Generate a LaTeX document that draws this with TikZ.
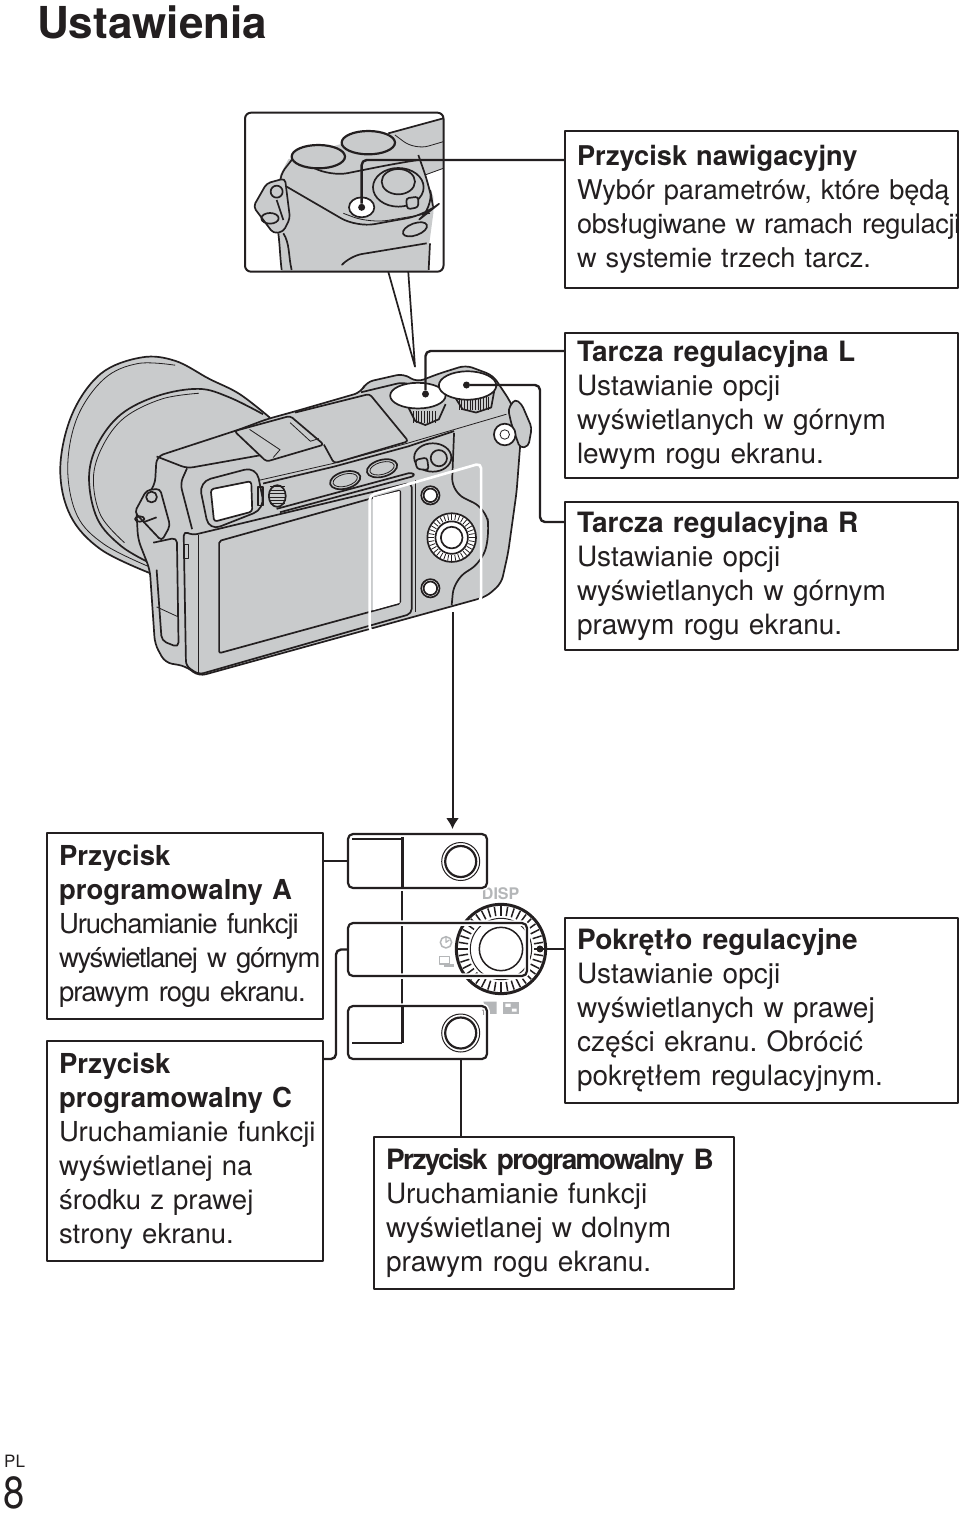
\documentclass[tikz,border=0pt]{standalone}
\usepackage{fontspec}
\setmainfont{TeX Gyre Heros}
\usetikzlibrary{arrows.meta}
\definecolor{camgrey}{HTML}{C9CBCC}
\definecolor{icongrey}{HTML}{B4B6B8}
\definecolor{inkblack}{HTML}{231F20}
\newcommand{\tracked}[2]{{\addfontfeatures{LetterSpace=#1}#2}}

\begin{document}
\begin{tikzpicture}[x=1pt,y=-1pt,line join=round,color=inkblack]
	
	\tikzset{infobox/.style = {draw,line width=2.4pt,outer sep=0pt,anchor=north west,align=left,inner sep=0pt,font=\fontsize{#1}{34}\selectfont,execute at begin node={\frenchspacing\leftskip=12pt\rightskip=-40pt plus 1fil}},infobox/.default=27.5}
	\tikzset{leader/.style = {line width=2.4pt,rounded corners=5pt}}
	\tikzset{outl/.style = {line width=1.7pt}}
	\tikzset{fine/.style = {line width=0.8pt}}
	\tikzset{dotmark/.style = {shape=circle,fill,inner sep=0pt,minimum size=7pt}}
	\tikzset{panel/.style = {shape=rectangle,rounded corners=5pt,draw,line width=2.2pt,outer sep=0pt,anchor=north west,inner sep=0pt,preaction={draw=white,line width=5.5pt}}}
	\tikzset{softbutton/.style = {shape=circle,draw,line width=1pt,inner sep=0pt,minimum size=38pt,fill=white}}
	
	\useasboundingbox (0,0) rectangle (960,1516);
	\fill[white] (0,0) rectangle (960,1516);
	
	\node[anchor=west,inner sep=0pt,font=\fontsize{44}{44}\selectfont\bfseries] (title) at (37,22) {Ustawienia};
	\node[anchor=west,inner sep=0pt,font=\fontsize{17}{17}\selectfont] (langmark) at (4,1461) {PL};
	\node[anchor=west,inner sep=0pt,xscale=.85,font=\fontsize{45}{45}\selectfont] (pagemark) at (3,1493) {8};
	
	% camera
	\begin{scope}[shift={(40,350)},x=0.338pt,y=-0.338pt]
		\draw[outl,fill=camgrey] plot[smooth,tension=.6] coordinates {(680,200)(590,130)(500,85)(400,32)(300,22)(180,70)(95,190)(60,350)(90,490)(180,590)(325,660)} -- cycle;
		\draw[fine] plot[smooth,tension=.6] coordinates {(400,45)(290,40)(190,85)(110,200)(82,350)(110,490)(190,575)(320,640)};
		\draw[outl] plot[smooth,tension=.6] coordinates {(660,190)(560,140)(470,115)(350,135)(240,190)(170,280)(145,380)(170,500)(240,580)(325,630)};
		\draw[fine] plot[smooth,tension=.6] coordinates {(470,128)(360,145)(250,200)(185,285)(158,380)(180,490)(250,570)};
		
		\draw[outl,fill=camgrey,rounded corners=7pt] (345,315) -- (590,235) -- (670,205) -- (760,180) -- (950,125) -- (965,95) -- (1075,70) -- (1115,95) -- (1180,70) -- (1260,45) -- (1340,75) -- (1390,150) -- (1425,230) -- (1420,290) -- (1410,420) -- (1385,600) -- (1365,690) -- (1320,730) -- (1230,755) -- (470,965) -- (430,935) -- (370,925) -- (340,870) -- (325,650) -- (290,560) -- (285,470) -- (340,400) -- cycle;
		
		% top plate
		\draw[outl,rounded corners=6pt] (345,315) -- (435,350) -- (660,310);
		\draw[outl,rounded corners=6pt] (435,350) -- (415,395) -- (450,530);
		\draw[fine] (650,385) -- (870,335) -- (1090,275) -- (1380,190);
		\draw[outl] (660,395) -- (870,345) -- (1090,285) -- (1225,240);
		\draw[outl,rounded corners=3pt] (700,470) -- (1100,362) -- (1110,372) -- (710,480);
		\draw[outl,rounded corners=3pt,fill=camgrey] (575,240) -- (740,195) -- (840,280) -- (670,330) -- cycle;
		\draw[fine] (620,235) -- (710,295) -- (690,318);
		\draw[fine] (740,215) -- (800,270) -- (825,262);
		\draw[outl,rounded corners=3pt] (755,185) -- (975,130) -- (1090,270) -- (870,335) -- (840,280);
		\draw[outl,rounded corners=6pt] (950,125) -- (1075,95) -- (1115,110);
		
		% dials
		\fill[camgrey] (1090,150) rectangle (1200,215);
		\draw[outl,fill=camgrey] (1090,170) -- (1110,210) -- (1140,222) -- (1180,205) -- (1200,160);
		\foreach \tx in {1105,1113,...,1175}
			\draw[fine] (\tx,180) -- (\tx,215);
		\draw[outl,fill=white] (1118,135) ellipse (82 and 38);
		\draw[outl,fill=camgrey] (1225,135) -- (1250,175) -- (1290,185) -- (1335,170) -- (1345,115);
		\foreach \tx in {1240,1248,...,1330}
			\draw[fine] (\tx,140) -- (\tx,178);
		\draw[outl,fill=white] (1265,105) ellipse (85 and 42);
		
		% strap lugs
		\draw[outl,fill=camgrey,rounded corners=4pt] (1385,175) -- (1405,145) -- (1425,160) -- (1455,230) -- (1445,285) -- (1420,290) -- (1395,220) -- cycle;
		\draw[outl,fill=white] (1375,250) circle (32);
		\draw[fine] (1375,250) circle (14);
		\draw[outl,fill=camgrey,rounded corners=4pt] (280,480) -- (315,415) -- (355,410) -- (385,520) -- (360,565) -- cycle;
		\draw[outl] (330,435) circle (16);
		\draw[outl] (305,510) -- (345,495);
		\draw[outl] (295,500) ellipse (14 and 8);
		
		% left door
		\draw[outl,rounded corners=5pt] (335,570) -- (405,555) -- (410,880) -- (360,860) -- (345,650);
		\draw[fine,rounded corners=5pt] (345,760) -- (410,790);
		
		% eyecup
		\draw[outl,fill=camgrey,rounded corners=12pt] (470,390) -- (640,345) -- (665,470) -- (500,535) -- cycle;
		\draw[outl,fill=white,rounded corners=3pt] (505,412) -- (625,388) -- (628,478) -- (515,508) -- cycle;
		\draw[outl] (645,405) rectangle (660,460);
		\draw[outl,fill=camgrey] (702,432) ellipse (25 and 32);
		\foreach \ty in {405,415,...,455}
			\draw[fine] (680,\ty) -- (725,\ty);
		
		% mode knob and buttons
		\draw[outl,fill=camgrey] (1162,318) ellipse (55 and 42);
		\draw[outl,fill=camgrey] (1180,320) circle (24);
		\draw[outl,fill=camgrey,rounded corners=3pt] (1110,325) -- (1145,318) -- (1150,355) -- (1115,352) -- cycle;
		\draw[outl,fill=camgrey,rotate around={15:(903,385)}] (903,385) ellipse (46 and 25);
		\draw[fine,rotate around={15:(903,385)}] (903,385) ellipse (37 and 18);
		\draw[outl,fill=camgrey,rotate around={15:(1012,350)}] (1012,350) ellipse (46 and 25);
		\draw[fine,rotate around={15:(1012,350)}] (1012,350) ellipse (37 and 18);
		
		% lcd
		\draw[outl,fill=camgrey,rounded corners=5pt] (425,535) -- (450,548) -- (1100,392) -- (1100,780) -- (470,960) -- (432,935) -- cycle;
		\draw[fine] (1112,385) -- (1112,775);
		\draw[fine] (470,548) -- (470,955);
		\draw[fine] (425,575) rectangle (438,618);
		\draw[outl,rounded corners=2pt,fill=camgrey] (530,565) -- (1066,415) -- (1066,750) -- (530,897) -- cycle;
		\fill[white] (985,436) -- (1064,417) -- (1064,748) -- (985,770) -- cycle;
		
		% grip
		\draw[outl,rounded corners=14pt] (1225,245) -- (1218,420) -- (1320,470) -- (1330,540) -- (1310,625) -- (1225,680) -- (1218,755);
		
		% right side controls
		\draw[outl,fill=white] (1155,430) circle (27);
		\draw[outl] (1155,430) circle (20);
		\draw[outl,fill=white] (1155,705) circle (27);
		\draw[outl] (1155,705) circle (20);
		\draw[outl,fill=white] (1218,555) circle (72);
		\foreach \a in {0,10,...,350}
			\draw[fine] (1218,555) ++(\a:52) -- ++(\a:17);
		\draw[outl,fill=white] (1218,555) circle (48);
		\draw[outl] (1218,555) circle (32);
		
		% selection frame
		\draw[white,line width=2.6pt,rounded corners=5pt] (975,430) -- (1305,335) -- (1305,745) -- (975,835) -- cycle;
	\end{scope}
	
	% inset
	\begin{scope}[shift={(230,100)},x=0.3333pt,y=-0.3333pt]
		\begin{scope}
			\clip (45,38) rectangle (640,515);
			\fill[camgrey] (175,178) -- (340,130) -- (475,100) -- (640,55) -- (640,205) -- (585,225) -- (610,290) -- (610,340) -- (598,430) -- (596,515) -- (155,515) -- (145,400) -- (150,225) -- cycle;
			\draw[outl,rounded corners=8pt] (185,180) -- (150,225) -- (150,275);
			\draw[outl] (475,100) -- (640,55);
			\draw[fine,rounded corners=14pt] (495,105) -- (555,150) -- (640,125);
			\draw[fine] (585,225) -- (640,205);
			\draw[outl,rounded corners=18pt] (170,260) -- (380,382) -- (585,345) -- (610,325) -- (600,265) -- (565,165);
			\draw[fine,rounded corners=18pt] (340,340) -- (420,370) -- (600,340);
			\draw[outl,rounded corners=18pt] (245,200) -- (300,230) -- (500,190) -- (565,180);
			\draw[outl,line width=2.2pt,fill=camgrey] (265,170) ellipse (80 and 35);
			\draw[outl,line width=2.2pt,fill=camgrey] (415,128) ellipse (80 and 35);
			\draw[outl,fill=camgrey] (505,262) ellipse (76 and 58);
			\draw[outl] (505,245) ellipse (50 and 38);
			\draw[outl,fill=camgrey,rounded corners=3pt] (528,295) -- (565,290) -- (565,322) -- (532,328) -- cycle;
			\draw[outl,fill=white] (395,322) ellipse (38 and 30);
			\draw[outl,rotate around={20:(555,388)}] (555,388) ellipse (38 and 18);
			\draw[outl,rounded corners=12pt] (340,490) -- (360,468) -- (590,430);
			\draw[outl] (600,430) -- (596,510);
			\draw[outl] (160,400) .. controls (180,430) and (175,470) .. (185,510);
			\draw[outl] (145,400) .. controls (150,440) and (150,470) .. (155,510);
			\draw[outl,fill=camgrey,rounded corners=4pt] (70,320) -- (110,250) -- (165,235) -- (180,355) -- (160,395) -- (130,400) -- cycle;
			\draw[outl] (140,275) circle (18);
			\draw[outl] (120,355) ellipse (26 and 16);
			\draw[outl] (140,300) -- (160,360);
		\end{scope}
		\node[inner sep=0pt,outer sep=0pt,minimum width=198.5pt,minimum height=159pt,draw,line width=2pt,rounded corners=6pt,anchor=north west] (insetframe) at (45,38) {};
		\coordinate (callout) at (555,800);
		\node[dotmark] (navdot) at (395,322) {};
	\end{scope}
	\draw[line width=1.7pt] ([xshift=44pt]insetframe.south) -- (callout) -- ([xshift=64pt]insetframe.south);
	
	% text boxes
	\node[infobox=27.2,text width=393pt,minimum height=157pt] (navbox) at (565,131) {\textbf{Przycisk nawigacyjny}\\\tracked{-0.5}{Wybór parametrów, które będą}\\\tracked{-1.3}{obsługiwane w ramach regulacji}\\w systemie trzech tarcz.};
	\node[infobox=28,text width=393pt,minimum height=145pt] (dialL) at (565,333) {\textbf{Tarcza regulacyjna L}\\Ustawianie opcji\\wyświetlanych w górnym\\lewym rogu ekranu.};
	\node[infobox=28,text width=393pt,minimum height=148pt] (dialR) at (565,502) {\textbf{Tarcza regulacyjna R}\\Ustawianie opcji\\wyświetlanych w górnym\\prawym rogu ekranu.};
	\node[infobox,text width=276pt,minimum height=186pt] (boxA) at (47,833) {\textbf{Przycisk}\\\textbf{programowalny A}\\\tracked{-3.6}{Uruchamianie funkcji}\\\tracked{-4.9}{wyświetlanej w górnym}\\\tracked{-3.6}{prawym rogu ekranu.}};
	\node[infobox,text width=276pt,minimum height=220pt] (boxC) at (47,1041) {\textbf{Przycisk}\\\textbf{programowalny C}\\Uruchamianie funkcji\\wyświetlanej na\\środku z prawej\\strony ekranu.};
	\node[infobox=28,text width=393pt,minimum height=185pt] (wheelbox) at (565,918) {\textbf{Pokrętło regulacyjne}\\Ustawianie opcji\\wyświetlanych w prawej\\części ekranu. Obrócić\\pokrętłem regulacyjnym.};
	\node[infobox=28,text width=360pt,minimum height=152pt] (boxB) at (374,1137) {\tracked{-6}{\textbf{Przycisk programowalny B}}\\Uruchamianie funkcji\\wyświetlanej w dolnym\\prawym rogu ekranu.};
	
	% enlarged controls
	\begin{scope}[shift={(320,810)},x=0.3333pt,y=-0.3333pt]
		\coordinate (wheelc) at (543,417);
		\draw[line width=3pt] (wheelc) circle (134);
		\foreach \a in {0,9,...,351}
			\draw[line width=1.5pt] (wheelc) ++(\a:100) -- ++(\a:28);
		\draw[line width=1pt] (wheelc) circle (92);
		\draw[line width=1.5pt] (wheelc) circle (65);
		\node[font=\fontsize{16}{16}\selectfont\bfseries,text=icongrey,inner sep=0pt] (disp) at (542,252) {DISP};
		\draw[icongrey,line width=1.5pt] (378,397) circle (17);
		\draw[icongrey,line width=1.2pt] (378,380) -- (378,397) -- (388,390);
		\draw[icongrey,line width=1.2pt,fill=white] (358,440) rectangle (388,462);
		\fill[icongrey] (372,462) rectangle (403,472);
		\fill[icongrey] (490,575) -- (530,575) -- (530,612) -- (505,612) -- cycle;
		\node[font=\fontsize{9}{9}\selectfont,text=inkblack!70,inner sep=0pt] (filterno) at (491,606) {1};
		\fill[icongrey] (550,575) rectangle (597,611);
		\fill[white] (556,581) rectangle (572,591) (576,596) rectangle (590,605);
		\draw[line width=2.2pt] (247,88) -- (247,700);
		\draw[line width=2.2pt] (97,88) -- (247,88);
		\draw[line width=2.2pt] (97,700) -- (247,700);
		\node[dotmark] (wheeldot) at (660,417) {};
	\end{scope}
	
	\node[panel,minimum width=139pt,minimum height=54pt] (panelA) at (348,834) {};
	\node[panel,minimum width=179pt,minimum height=53pt] (panelC) at (348,923) {};
	\node[panel,minimum width=139pt,minimum height=53pt] (panelB) at (348,1006) {};
	\draw[line width=2.2pt] (402.5,837) -- (402.5,888);
	\draw[line width=2.2pt] (402.5,1006) -- (402.5,1043);
	\node[softbutton] (buttonA) at (460.7,861.5) {};
	\node[softbutton] (buttonB) at (460.7,1033) {};
	\draw[line width=2.2pt] (buttonA) circle (15.5);
	\draw[line width=2.2pt] (buttonB) circle (15.5);
	
	% camera dots
	\node[dotmark] (leftdot) at (425.5,394) {};
	\node[dotmark] (rightdot) at (466.5,385) {};
	\coordinate (keyframe) at (452.5,612);
	\coordinate (keyarrow) at (452.5,829);
	
	% connectors
	\draw[leader] (navdot) |- (navbox.north west |- 0,160);
	\draw[leader] (leftdot) |- (dialL.north west |- 0,351);
	\draw[leader] (rightdot) -| (540,522) -- (dialR.north west |- 0,522);
	\draw[line width=2pt,-{Latex[length=11pt,width=13pt]}] (keyframe) -- (keyarrow);
	\draw[leader] (wheeldot) -- (wheelbox.north west |- wheeldot);
	\draw[leader] (panelA.west) -- (panelA.west -| boxA.east);
	\draw[leader] (panelC.west) -- ++(-12,0) |- (boxC.east |- panelB.south);
	\draw[leader] (buttonB.south |- panelB.south) -- (buttonB.south |- boxB.north);
	
\end{tikzpicture}
\end{document}
